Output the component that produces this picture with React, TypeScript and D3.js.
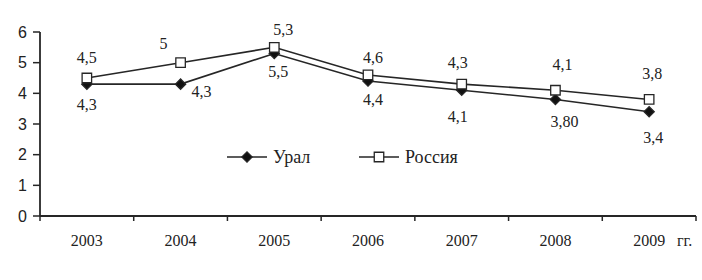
import React, { useEffect, useRef } from "react";
import * as d3 from "d3";

const years = ["2003", "2004", "2005", "2006", "2007", "2008", "2009"];
const uralValues = [4.3, 4.3, 5.3, 4.4, 4.1, 3.8, 3.4];
const russiaValues = [4.5, 5, 5.5, 4.6, 4.3, 4.1, 3.8];
const uralLabels = ["4,3", "4,3", "5,5", "4,4", "4,1", "3,80", "3,4"];
const russiaLabels = ["4,5", "5", "5,3", "4,6", "4,3", "4,1", "3,8"];
const yTicks = [0, 1, 2, 3, 4, 5, 6];

// label placement tweaks relative to the marker
const uralLabelOffsets = [[0, 20], [21, 7], [4, 18], [5, 18], [-4, 26], [9, 22], [4, 26]];
const russiaLabelOffsets = [[0, -21], [-17, -19], [9, -18], [5, -18], [-4, -22], [7, -26], [3, -26]];

const App = () => {
  const ref = useRef<SVGSVGElement>(null);

  useEffect(() => {
    const svg = d3.select(ref.current);
    svg.selectAll("*").remove();

    const left = 40;
    const right = 696;
    const top = 32;
    const bottom = 216;
    const ink = "#262626";
    const serif = "Liberation Serif, Times New Roman, serif";
    const sans = "Liberation Sans, Arial, sans-serif";

    const x = d3.scaleBand().domain(years).range([left, right]);
    const y = d3.scaleLinear().domain([0, 6]).range([bottom, top]);
    const cx = (d: string) => (x(d) as number) + x.bandwidth() / 2;

    // y axis
    svg.append("line").attr("x1", left).attr("x2", left).attr("y1", top).attr("y2", bottom)
      .attr("stroke", ink).attr("stroke-width", 1.8);
    yTicks.forEach((t) => {
      svg.append("line").attr("x1", left - 7).attr("x2", left).attr("y1", y(t)).attr("y2", y(t))
        .attr("stroke", ink).attr("stroke-width", 1.5);
      svg.append("text").attr("x", 27).attr("y", y(t)).attr("dy", "0.36em")
        .attr("text-anchor", "end").attr("font-family", sans).attr("font-size", 16)
        .attr("fill", "#222").text(t);
    });

    // x axis
    svg.append("line").attr("x1", left).attr("x2", right).attr("y1", bottom).attr("y2", bottom)
      .attr("stroke", ink).attr("stroke-width", 1.8);
    const bounds = years.map((d) => x(d) as number).concat([right]);
    bounds.forEach((b) => {
      svg.append("line").attr("x1", b).attr("x2", b).attr("y1", bottom).attr("y2", bottom + 5)
        .attr("stroke", ink).attr("stroke-width", 1.5);
    });
    years.forEach((d) => {
      svg.append("text").attr("x", cx(d)).attr("y", 246).attr("text-anchor", "middle")
        .attr("font-family", serif).attr("font-size", 16).attr("fill", "#222").text(d);
    });
    svg.append("text").attr("x", 677).attr("y", 246).attr("font-family", serif)
      .attr("font-size", 16).attr("fill", "#222").text("гг.");

    const line = d3.line<number>().x((_, i) => cx(years[i])).y((v) => y(v));
    const square = d3.symbol().type(d3.symbolSquare).size(90);
    const diamond = d3.symbol().type(d3.symbolSquare).size(52);

    const drawSeries = (
      values: number[],
      labels: string[],
      offsets: number[][],
      sym: d3.Symbol<any, any>,
      fill: string,
      rot: number
    ) => {
      svg.append("path").datum(values).attr("d", line).attr("fill", "none")
        .attr("stroke", ink).attr("stroke-width", 1.6);
      values.forEach((v, i) => {
        svg.append("path").attr("d", sym())
          .attr("transform", `translate(${cx(years[i])},${y(v)}) rotate(${rot})`)
          .attr("fill", fill).attr("stroke", ink).attr("stroke-width", 1.3);
        svg.append("text").attr("x", cx(years[i]) + offsets[i][0]).attr("y", y(v) + offsets[i][1])
          .attr("dy", "0.35em").attr("text-anchor", "middle").attr("font-family", serif)
          .attr("font-size", 16).attr("fill", "#222").text(labels[i]);
      });
    };

    drawSeries(uralValues, uralLabels, uralLabelOffsets, diamond, "#111", 45);
    drawSeries(russiaValues, russiaLabels, russiaLabelOffsets, square, "#fff", 0);

    // legend
    const legend = [
      { name: "Урал", sym: diamond, fill: "#111", rot: 45, x0: 227 },
      { name: "Россия", sym: square, fill: "#fff", rot: 0, x0: 359 },
    ];
    const ly = 157;
    legend.forEach((l) => {
      svg.append("line").attr("x1", l.x0).attr("x2", l.x0 + 40).attr("y1", ly).attr("y2", ly)
        .attr("stroke", ink).attr("stroke-width", 1.6);
      svg.append("path").attr("d", l.sym())
        .attr("transform", `translate(${l.x0 + 20},${ly}) rotate(${l.rot})`)
        .attr("fill", l.fill).attr("stroke", ink).attr("stroke-width", 1.3);
      svg.append("text").attr("x", l.x0 + 46).attr("y", ly).attr("dy", "0.35em")
        .attr("font-family", serif).attr("font-size", 18).attr("fill", "#222").text(l.name);
    });
  });

  return (
    <svg ref={ref} width={702} height={280}
      style={{ position: "absolute", left: 0, top: 0, background: "#fff" }} />
  );
};

export default App;
